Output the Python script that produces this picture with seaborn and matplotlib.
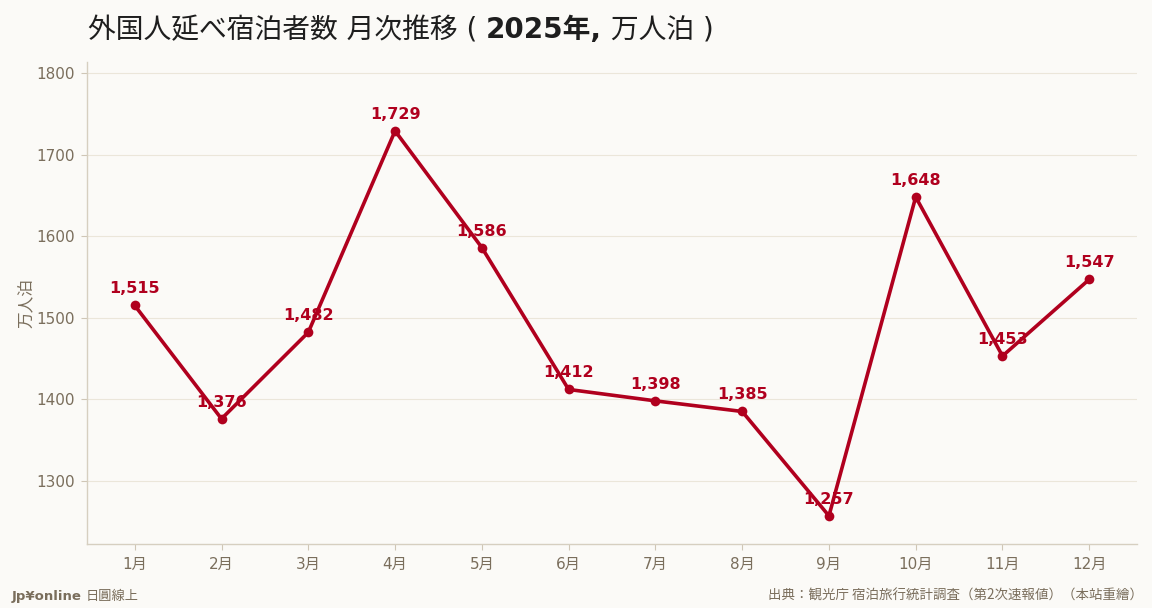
import matplotlib
matplotlib.use("Agg")
import matplotlib.pyplot as plt
import seaborn as sns
import pandas as pd

# Data
months = ["1月", "2月", "3月", "4月", "5月", "6月", "7月", "8月", "9月", "10月", "11月", "12月"]
stays = [1515, 1376, 1482, 1729, 1586, 1412, 1398, 1385, 1257, 1648, 1453, 1547]

df = pd.DataFrame({"month": months, "stays": stays, "idx": range(len(months))})

bg = "#fbfaf7"
red = "#b0001e"
txt = "#7a6e5c"

sns.set_theme(style="white")
plt.rcParams["font.family"] = ["DejaVu Sans", "Noto Sans CJK JP"]

fig = plt.figure(figsize=(11.52, 6.08), dpi=100, facecolor=bg)
ax = fig.add_axes([87 / 1152, 1 - 544 / 608, 1050 / 1152, 482 / 608])
ax.set_facecolor(bg)

sns.lineplot(data=df, x="idx", y="stays", ax=ax, color=red, linewidth=2.6,
             marker="o", markersize=7, markeredgewidth=0)

for i, v in zip(df["idx"], df["stays"]):
    ax.annotate(f"{v:,}", (i, v), xytext=(0, 6.5), textcoords="offset points",
                ha="center", va="bottom", color=red, fontsize=11.5, fontweight="bold")

ax.set_xlim(-0.55, 11.55)
ax.set_ylim(1222.5, 1813.5)
ax.set_xticks(df["idx"])
ax.set_xticklabels(months)
ax.set_yticks([1300, 1400, 1500, 1600, 1700, 1800])
ax.tick_params(axis="both", colors=txt, labelsize=11, length=4, width=0.8, color="#cfc6b6",
               bottom=True, left=True, pad=5)
ax.grid(axis="y", color="#ebe6da", linewidth=0.8)
ax.grid(axis="x", visible=False)
for s in ["top", "right"]:
    ax.spines[s].set_visible(False)
for s in ["left", "bottom"]:
    ax.spines[s].set_color("#d6cfc0")
    ax.spines[s].set_linewidth(1)
ax.set_xlabel("")
ax.set_ylabel("万人泊", color=txt, fontsize=12, family=["Noto Sans CJK JP"], labelpad=0)

# Title with a bold middle part
renderer = fig.canvas.get_renderer()
x = 88 / 1152
y = 1 - 38 / 608
fam = ["DejaVu Sans", "Noto Sans CJK JP"]
parts = [("外国人延べ宿泊者数 月次推移 ( ", "normal"),
         ("2025年,", "bold"),
         (" 万人泊 )", "normal")]
for s, w in parts:
    t = fig.text(x, y, s, fontsize=20, fontweight=w, family=fam, color="#1e1e1e",
                 ha="left", va="baseline")
    bb = t.get_window_extent(renderer=renderer)
    x += bb.width / fig.bbox.width

# Footer
t1 = fig.text(12 / 1152, 8 / 608, "Jp¥online", fontsize=9.5, fontweight="bold", color=txt,
              ha="left", va="baseline")
bb = t1.get_window_extent(renderer=renderer)
fig.text(12 / 1152 + bb.width / fig.bbox.width + 4 / 1152, 8 / 608, "日圓線上", fontsize=9.5,
         color=txt, family=["Noto Sans CJK JP"], ha="left", va="baseline")
fig.text(1143 / 1152, 8 / 608, "出典：観光庁 宿泊旅行統計調査（第2次速報値）（本站重繪）",
         fontsize=9.7, color=txt, family=["Noto Sans CJK JP", "DejaVu Sans"],
         ha="right", va="baseline")

plt.savefig("out.png", dpi=100, facecolor=bg)
